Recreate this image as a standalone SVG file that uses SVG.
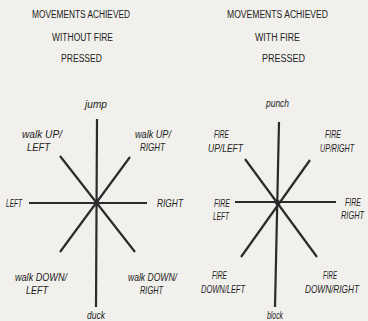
<svg xmlns="http://www.w3.org/2000/svg" width="368" height="321" viewBox="0 0 368 321">
<style>
.bg{fill:#f1f0ec}
.h{font-family:"Liberation Sans",Arial,sans-serif;font-size:10px;fill:#222}
.l{font-family:"Liberation Sans",Arial,sans-serif;font-size:10.5px;font-style:italic;fill:#222}
.ln{stroke:#2b2b2b;stroke-width:2.2;stroke-linecap:butt;fill:none}
.dot{fill:#2b2b2b}
</style>
<rect class="bg" x="0" y="0" width="368" height="321"/>
<g id="header-left">
<text class="h" x="32" y="18" textLength="98" lengthAdjust="spacingAndGlyphs">MOVEMENTS ACHIEVED</text>
<text class="h" x="52" y="41" textLength="61" lengthAdjust="spacingAndGlyphs">WITHOUT FIRE</text>
<text class="h" x="61" y="62" textLength="41" lengthAdjust="spacingAndGlyphs">PRESSED</text>
</g>
<g id="header-right">
<text class="h" x="227" y="18" textLength="101" lengthAdjust="spacingAndGlyphs">MOVEMENTS ACHIEVED</text>
<text class="h" x="255" y="41" textLength="45" lengthAdjust="spacingAndGlyphs">WITH FIRE</text>
<text class="h" x="262" y="62" textLength="43" lengthAdjust="spacingAndGlyphs">PRESSED</text>
</g>
<g id="connectors">
<line class="ln" x1="97" y1="119" x2="96" y2="307"/>
<line class="ln" x1="29" y1="203" x2="147" y2="203"/>
<line class="ln" x1="60" y1="156" x2="135" y2="252"/>
<line class="ln" x1="130" y1="157" x2="60" y2="252"/>
<circle class="dot" cx="97" cy="203" r="2.5"/>
<line class="ln" x1="279" y1="122" x2="275" y2="307"/>
<line class="ln" x1="235" y1="202" x2="336" y2="202"/>
<line class="ln" x1="245" y1="159" x2="317" y2="257"/>
<line class="ln" x1="310" y1="160" x2="241" y2="257"/>
<circle class="dot" cx="277" cy="202" r="2.5"/>
</g>
<g id="jump"><text class="l" x="85" y="108" textLength="22" lengthAdjust="spacingAndGlyphs">jump</text></g>
<g id="walk-up-left"><text class="l" x="22" y="138" textLength="40" lengthAdjust="spacingAndGlyphs">walk UP/</text><text class="l" x="27" y="151" textLength="23" lengthAdjust="spacingAndGlyphs">LEFT</text></g>
<g id="walk-up-right"><text class="l" x="135" y="138" textLength="36" lengthAdjust="spacingAndGlyphs">walk UP/</text><text class="l" x="140" y="151" textLength="25" lengthAdjust="spacingAndGlyphs">RIGHT</text></g>
<g id="left"><text class="l" x="6" y="207" textLength="16" lengthAdjust="spacingAndGlyphs">LEFT</text></g>
<g id="right"><text class="l" x="157" y="207" textLength="26" lengthAdjust="spacingAndGlyphs">RIGHT</text></g>
<g id="walk-down-left"><text class="l" x="15" y="281" textLength="52" lengthAdjust="spacingAndGlyphs">walk DOWN/</text><text class="l" x="26" y="294" textLength="22" lengthAdjust="spacingAndGlyphs">LEFT</text></g>
<g id="walk-down-right"><text class="l" x="128" y="281" textLength="49" lengthAdjust="spacingAndGlyphs">walk DOWN/</text><text class="l" x="140" y="294" textLength="23" lengthAdjust="spacingAndGlyphs">RIGHT</text></g>
<g id="duck"><text class="l" x="87" y="319" textLength="18" lengthAdjust="spacingAndGlyphs">duck</text></g>
<g id="punch"><text class="l" x="266" y="107" textLength="23" lengthAdjust="spacingAndGlyphs">punch</text></g>
<g id="fire-up-left"><text class="l" x="214" y="138" textLength="15" lengthAdjust="spacingAndGlyphs">FIRE</text><text class="l" x="208" y="152" textLength="35" lengthAdjust="spacingAndGlyphs">UP/LEFT</text></g>
<g id="fire-up-right"><text class="l" x="325" y="138" textLength="16" lengthAdjust="spacingAndGlyphs">FIRE</text><text class="l" x="320" y="152" textLength="34" lengthAdjust="spacingAndGlyphs">UP/RIGHT</text></g>
<g id="fire-left"><text class="l" x="214" y="207" textLength="16" lengthAdjust="spacingAndGlyphs">FIRE</text><text class="l" x="213" y="220" textLength="16" lengthAdjust="spacingAndGlyphs">LEFT</text></g>
<g id="fire-right"><text class="l" x="345" y="206" textLength="16" lengthAdjust="spacingAndGlyphs">FIRE</text><text class="l" x="341" y="219" textLength="23" lengthAdjust="spacingAndGlyphs">RIGHT</text></g>
<g id="fire-down-left"><text class="l" x="212" y="279" textLength="15" lengthAdjust="spacingAndGlyphs">FIRE</text><text class="l" x="201" y="293" textLength="44" lengthAdjust="spacingAndGlyphs">DOWN/LEFT</text></g>
<g id="fire-down-right"><text class="l" x="323" y="279" textLength="14" lengthAdjust="spacingAndGlyphs">FIRE</text><text class="l" x="305" y="293" textLength="54" lengthAdjust="spacingAndGlyphs">DOWN/RIGHT</text></g>
<g id="block"><text class="l" x="267" y="319" textLength="16" lengthAdjust="spacingAndGlyphs">block</text></g>
</svg>
